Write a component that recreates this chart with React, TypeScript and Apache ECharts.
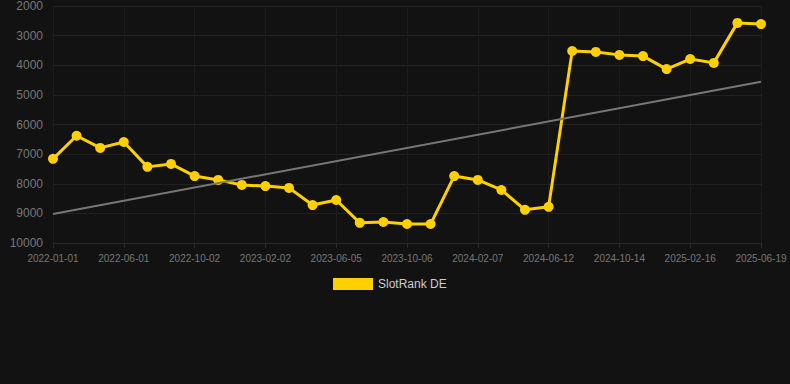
import React, { useEffect, useRef } from "react";
import * as echarts from "echarts";

const categories: string[] = [
  "2022-01-01", "2022-02-20", "2022-04-11",
  "2022-06-01", "2022-07-12", "2022-08-22",
  "2022-10-02", "2022-11-12", "2022-12-23",
  "2023-02-02", "2023-03-05", "2023-04-05",
  "2023-06-05", "2023-07-16", "2023-08-26",
  "2023-10-06", "2023-11-16", "2023-12-27",
  "2024-02-07", "2024-03-19", "2024-04-30",
  "2024-06-12", "2024-07-23", "2024-09-02",
  "2024-10-14", "2024-11-24", "2025-01-05",
  "2025-02-16", "2025-03-29", "2025-05-09",
  "2025-06-19",
];

const slotRankDE: number[] = [
  7160, 6380, 6790, 6590, 7430, 7330, 7740, 7870, 8040, 8080, 8140,
  8720, 8550, 9320, 9290, 9360, 9360, 7740, 7870, 8210, 8880, 8780,
  3520, 3550, 3650, 3690, 4130, 3790, 3920, 2570, 2610,
];

const trendStart = 9020;
const trendEnd = 4560;

const yMin = 2000;
const yMax = 10000;
const yInterval = 1000;

export default function App() {
  const ref = useRef<HTMLDivElement>(null);
  useEffect(() => {
    document.body.style.margin = "0";
    document.body.style.background = "#121212";
    if (!ref.current) return;
    const chart = echarts.init(ref.current, null, { renderer: "svg" });
    chart.setOption({
      animation: false,
      backgroundColor: "#121212",
      grid: { left: 53, right: 29, top: 6, bottom: 141, containLabel: false },
      legend: {
        show: true,
        top: 278,
        left: 333,
        padding: 0,
        icon: "rect",
        itemWidth: 40,
        itemHeight: 12,
        itemGap: 10,
        textStyle: { color: "#cccccc", fontSize: 12, fontFamily: "Arial, Liberation Sans, sans-serif" },
        data: ["SlotRank DE"],
      },
      xAxis: {
        type: "category",
        data: categories,
        boundaryGap: false,
        axisLine: { show: true, lineStyle: { color: "#2a2a2a" } },
        axisTick: { show: true, interval: 2, lineStyle: { color: "#2a2a2a" } },
        axisLabel: {
          interval: 2,
          color: "#777777",
          fontSize: 10,
          margin: 10,
          fontFamily: "Arial, Liberation Sans, sans-serif",
        },
        splitLine: { show: true, interval: 2, lineStyle: { color: "#1c1c1c", width: 1 } },
      },
      yAxis: {
        type: "value",
        inverse: true,
        min: yMin,
        max: yMax,
        interval: yInterval,
        axisLine: { show: false },
        axisTick: { show: false },
        axisLabel: {
          color: "#777777",
          fontSize: 12,
          margin: 10,
          formatter: (v: number) => String(v),
          fontFamily: "Arial, Liberation Sans, sans-serif",
        },
        splitLine: { show: true, lineStyle: { color: "#212121", width: 1 } },
      },
      series: [
        {
          name: "SlotRank DE",
          type: "line",
          data: slotRankDE,
          symbol: "circle",
          symbolSize: 10,
          showSymbol: true,
          itemStyle: { color: "#ffd000" },
          lineStyle: { color: "#ffd000", width: 3 },
          markLine: {
            silent: true,
            symbol: ["none", "none"],
            label: { show: false },
            lineStyle: { color: "#777777", width: 2, type: "solid" },
            data: [
              [
                { xAxis: categories[0], yAxis: trendStart },
                { xAxis: categories[categories.length - 1], yAxis: trendEnd },
              ],
            ],
          },
        },
      ],
    });
    return () => chart.dispose();
  }, []);
  return <div ref={ref} style={{ width: 790, height: 384 }} />;
}
